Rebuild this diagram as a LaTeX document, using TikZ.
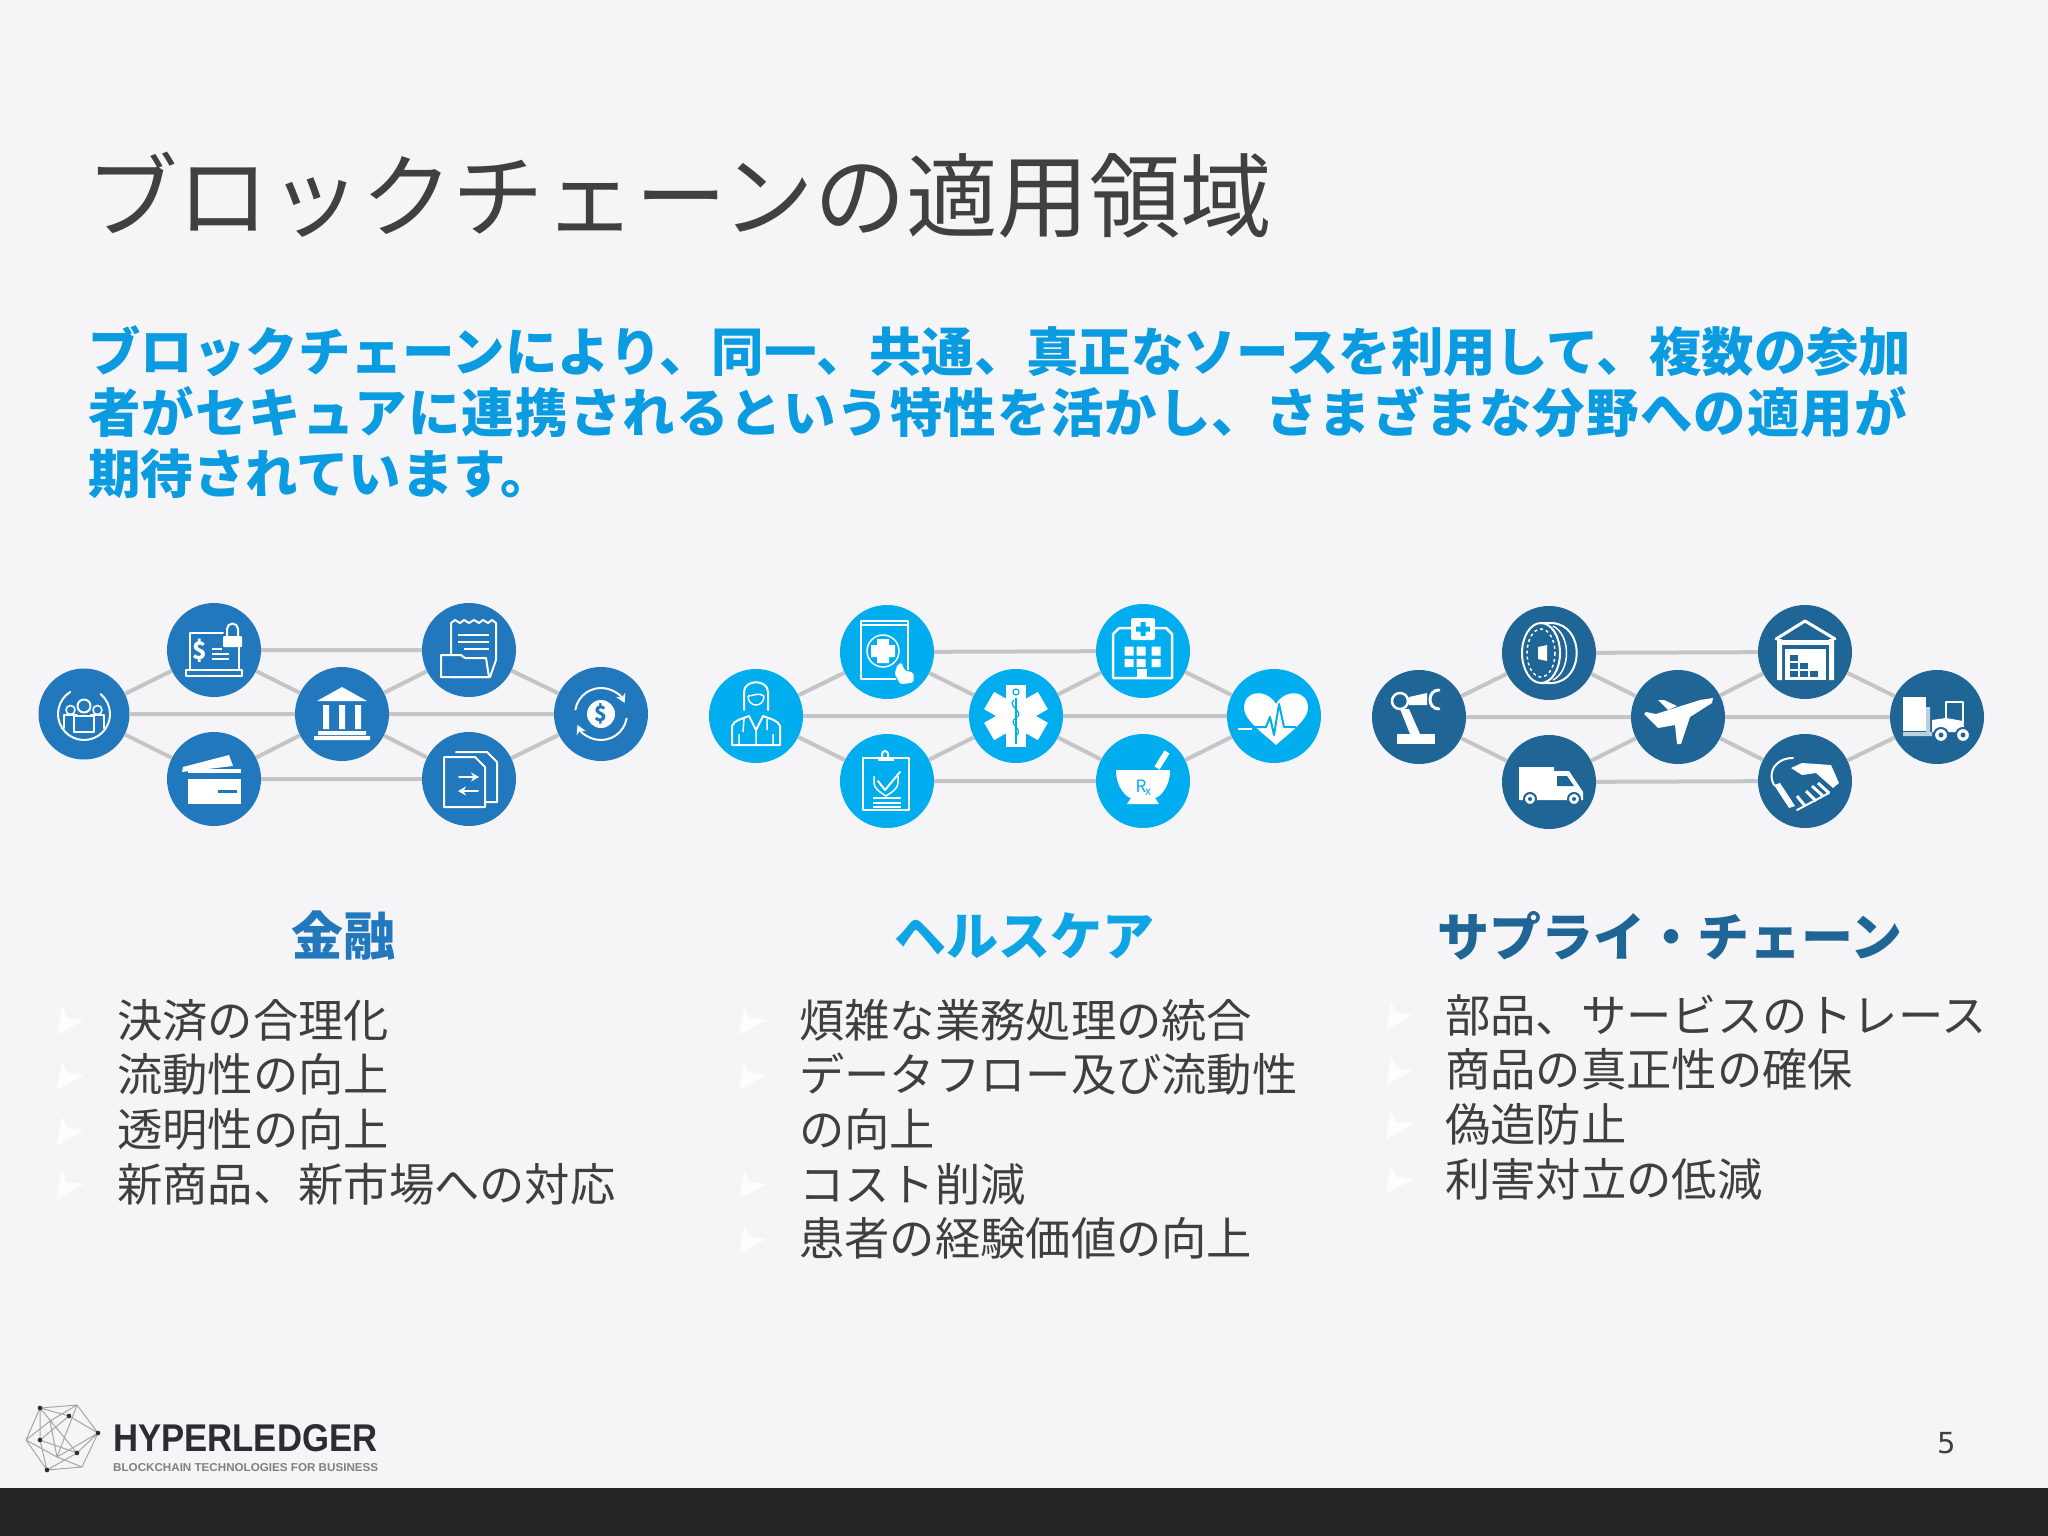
\documentclass[tikz,border=0pt]{standalone}
\usepackage{fontspec}
\setmainfont{Noto Sans CJK JP}
\newfontfamily\leadsp[LetterSpace=2.1]{Noto Sans CJK JP}
\newfontfamily\logofont{Liberation Sans}
\newfontfamily\numfont{DejaVu Sans}
\usetikzlibrary{arrows.meta}
\definecolor{pagebg}{HTML}{F5F5F7}
\definecolor{barbg}{HTML}{252527}
\definecolor{titlec}{HTML}{404040}
\definecolor{leadc}{HTML}{0B9BE0}
\definecolor{inka}{HTML}{2178BC}
\definecolor{inkb}{HTML}{00AEEF}
\definecolor{inkc}{HTML}{1F6595}
\definecolor{headb}{HTML}{0FA5E5}
\definecolor{linkc}{HTML}{C5C5C5}
\definecolor{bodyc}{HTML}{3F3F3F}
\definecolor{logoc}{HTML}{2D2D31}
\newcommand{\fs}[1]{\fontsize{#1}{#1}\selectfont}
\newcommand{\meshlinks}[1]{\draw[link] (#11)--(#12) (#11)--(#13) (#11)--(#14) (#12)--(#14) (#13)--(#14) (#12)--(#15) (#13)--(#16) (#14)--(#15) (#14)--(#16) (#14)--(#17) (#15)--(#17) (#16)--(#17);}
\newcommand{\bul}[2]{\fill[white,opacity=0.85] (#1-60,#2+15) -- (#1-33,#2) -- (#1-50,#2-2) -- (#1-55,#2-14) -- cycle;}
\tikzset{
  hub/.style={circle,minimum size=94pt,inner sep=0pt,fill=#1},
  link/.style={draw=linkc,line width=4pt},
  ic/.style={draw=white,line width=2pt,line join=round,line cap=round},
  thinw/.style={draw=white,line width=1.5pt},
  heading/.style={inner sep=0pt,font=\fs{52}\bfseries},
  item/.style={anchor=base west,inner sep=0pt,text=bodyc,font=\fs{45.3}},
}
\begin{document}
\begin{tikzpicture}[x=1pt,y=-1pt]
\useasboundingbox (0,0) rectangle (2048,1536);
\fill[pagebg] (0,0) rectangle (2048,1536);
\fill[barbg] (0,1488) rectangle (2048,1536);
% texts
\node[anchor=base west,inner sep=0pt,text=titlec,font=\fs{91.6}] (title) at (86,230) {ブロックチェーンの適用領域};
\node[anchor=north west,inner sep=0pt,text=leadc,align=left,font=\fontsize{52.45}{61.2}\selectfont\bfseries] (lead) at (88,325)
  {ブロックチェーンにより、同一、共通、真正なソースを利用して、複数の参加\\
   {\leadsp\bfseries 者がセキュアに連携されるという特性を活かし、さまざまな分野への適用が}\\
   期待されています。};
\node[heading,text=inka] (ha) at (343,936) {金融};
\node[heading,text=headb] (hb) at (1024,936) {ヘルスケア};
\node[heading,text=inkc] (hc) at (1670,936) {サプライ・チェーン};
% list 1
\node[item] (l1) at (117,1037) {決済の合理化};
\node[item] (l2) at (117,1091.5) {流動性の向上};
\node[item] (l3) at (117,1146.5) {透明性の向上};
\node[item] (l4) at (117,1201) {新商品、新市場への対応};
\bul{117}{1020}\bul{117}{1075}\bul{117}{1130}\bul{117}{1184}
% list 2
\node[item] (m1) at (799,1037) {煩雑な業務処理の統合};
\node[item] (m2) at (799,1091.5) {データフロー及び流動性};
\node[item] (m3) at (799,1146.5) {の向上};
\node[item] (m4) at (799,1201) {コスト削減};
\node[item] (m5) at (799,1255.5) {患者の経験価値の向上};
\bul{799}{1020}\bul{799}{1075}\bul{799}{1184}\bul{799}{1239}
% list 3
\node[item] (n1) at (1445,1032) {部品、サービスのトレース};
\node[item] (n2) at (1445,1086.5) {商品の真正性の確保};
\node[item] (n3) at (1445,1141) {偽造防止};
\node[item] (n4) at (1445,1196) {利害対立の低減};
\bul{1446}{1015}\bul{1446}{1070}\bul{1446}{1124}\bul{1446}{1179}
% page number
\node[inner sep=0pt,text=titlec,font=\numfont\fs{29}] (pg) at (1947,1443) {5};
% logo
\coordinate (L1) at (40,1408); \coordinate (L2) at (77,1405); \coordinate (L3) at (98,1433);
\coordinate (L4) at (82,1467); \coordinate (L5) at (47,1470); \coordinate (L6) at (26,1440);
\coordinate (D1) at (69,1416); \coordinate (D2) at (40,1440); \coordinate (D3) at (77,1453);
\coordinate (D4) at (50,1421); \coordinate (D5) at (57,1457);
\draw[draw=gray!70,line width=1pt] (L1)--(L2)--(L3)--(L4)--(L5)--(L6)--cycle
  (L1)--(D1)--(L3)--(D3)--(L5)--(D2)--(L1) (L2)--(D4)--(L6) (D4)--(D5)--(L4) (D1)--(D2)--(D3)--(L3) (L6)--(D5)--(L3) (L1)--(D3) (L2)--(D5);
\foreach \p in {L1,L3,L5,D1,D2,D3}{\fill[logoc] (\p) circle (2.3);}
\node[anchor=south west,inner sep=0pt,text=logoc] (logo) at (113,1452) {\resizebox{264pt}{27pt}{\logofont\bfseries HYPERLEDGER}};
\node[anchor=south west,inner sep=0pt,text=gray] (tag) at (113,1472) {\resizebox{265pt}{8pt}{\logofont\bfseries BLOCKCHAIN TECHNOLOGIES FOR BUSINESS}};
% hubs
\node[hub=inka,minimum size=91pt] (a1) at (84,714) {};
\node[hub=inka] (a2) at (214,650) {};
\node[hub=inka] (a3) at (214,779) {};
\node[hub=inka] (a4) at (342,714) {};
\node[hub=inka] (a5) at (469,650) {};
\node[hub=inka] (a6) at (469,779) {};
\node[hub=inka] (a7) at (601,714) {};
\meshlinks{a}
\node[hub=inkb] (b1) at (756,716) {};
\node[hub=inkb] (b2) at (887,652) {};
\node[hub=inkb] (b3) at (887,781) {};
\node[hub=inkb] (b4) at (1016,716) {};
\node[hub=inkb] (b5) at (1143,651) {};
\node[hub=inkb] (b6) at (1143,781) {};
\node[hub=inkb] (b7) at (1274,716) {};
\meshlinks{b}
\node[hub=inkc] (c1) at (1419,717) {};
\node[hub=inkc] (c2) at (1549,653) {};
\node[hub=inkc] (c3) at (1549,782) {};
\node[hub=inkc] (c4) at (1678,717) {};
\node[hub=inkc] (c5) at (1805,652) {};
\node[hub=inkc] (c6) at (1805,781) {};
\node[hub=inkc] (c7) at (1937,717) {};
\meshlinks{c}
% ---- icons A
\colorlet{ink}{inka}
\begin{scope}[shift={(a1)}]
 \draw[ic] (238:26) arc (238:-50:26);
 \draw[ic,fill=ink] (-20,14) -- (-20,1) -- (-7,1) -- (-7,14) (7,14) -- (7,1) -- (20,1) -- (20,14);
 \draw[thinw] (-13.5,-4) circle (4.5) (13.5,-4) circle (4.5);
 \draw[ic,fill=ink] (-10,18) -- (-10,2) -- (10,2) -- (10,18) -- cycle;
 \draw[ic,fill=ink] (0,-8) circle (6.5);
\end{scope}
\begin{scope}[shift={(a2)}]
 \draw[ic] (-24,20) -- (-24,-17) -- (9,-17) (25,-3) -- (25,20);
 \draw[ic] (-28,20) rectangle (28,26);
 \fill[white,rounded corners=1pt] (9,-14) rectangle (28,-3);
 \draw[ic] (13,-14) -- (13,-21) arc (180:360:5.5) -- (24,-14);
 \node[inner sep=0pt,text=white,font=\fs{24}\bfseries] (a2s) at (-14,1) {\$};
 \draw[thinw] (-2,-1) -- (8,-1) (-2,4) -- (15,4) (-2,9) -- (15,9);
\end{scope}
\begin{scope}[shift={(a3)}]
 \fill[white] (-32,-7) -- (-31,-12) -- (15,-24) -- (19,-13) -- cycle;
 \fill[white] (-26,-10) rectangle (27,25);
 \fill[ink] (-26,-6) rectangle (27,0);
 \fill[ink] (4,11) rectangle (23,14);
\end{scope}
\begin{scope}[shift={(a4)}]
 \fill[white] (0,-27) -- (25,-13) -- (-25,-13) -- cycle;
 \fill[white] (-19,-9) rectangle (-13,15) (-3,-9) rectangle (3,15) (13,-9) rectangle (19,15);
 \fill[white] (-24,17) rectangle (24,21) (-28,22) rectangle (28,26);
\end{scope}
\begin{scope}[shift={(a5)}]
 \draw[ic,fill=ink] (-18,5) -- (-18,-27) -- (-14,-30) -- (-9,-27) -- (-5,-30) -- (0,-27) -- (5,-30) -- (10,-27) -- (14,-30) -- (19,-27) -- (23,-30) -- (27,-27) -- (27,10) -- (21,27) -- (-18,27) -- cycle;
 \draw[thinw] (-11,-15) -- (20,-15) (-11,-8) -- (20,-8) (-5,-1) -- (20,-1);
 \draw[ic,fill=ink] (-28,27) -- (-28,5) -- (-8,5) -- (-4,8) -- (17,8) -- (20,27) -- cycle;
\end{scope}
\begin{scope}[shift={(a6)}]
 \draw[ic] (-13,-27) -- (18,-27) -- (28,-17) -- (28,23) -- (16,23);
 \draw[ic,fill=ink] (-25,-22) -- (6,-22) -- (16,-12) -- (16,28) -- (-25,28) -- cycle;
 \draw[ic,-{Stealth[length=8pt,width=9pt]}] (-10,-2) -- (10,-2);
 \draw[ic,-{Stealth[length=8pt,width=9pt]}] (9,12) -- (-11,12);
\end{scope}
\begin{scope}[shift={(a7)}]
 \draw[ic,-{Stealth[length=9pt,width=10pt]}] (190:26) arc (190:335:26);
 \draw[ic,-{Stealth[length=9pt,width=10pt]}] (10:26) arc (10:155:26);
 \fill[white] (0,0) circle (14);
 \node[inner sep=0pt,text=ink,font=\fs{21}\bfseries] (a7s) at (0,0) {\$};
\end{scope}
% ---- icons B
\colorlet{ink}{inkb}
\begin{scope}[shift={(b1)}]
 \draw[ic] (-12,-6) -- (-12,-24) .. controls (-12,-37) and (12,-37) .. (12,-24) -- (12,-6);
 \draw[thinw] (-8,-20) .. controls (-3,-20) and (3,-24) .. (8,-20) (-8,-20) .. controls (-8,-8) and (8,-8) .. (8,-20);
 \draw[ic] (-24,29) -- (-24,10) .. controls (-22,4) and (-14,3) .. (-7,0) -- (0,14) -- (7,0) .. controls (14,3) and (22,4) .. (24,10) -- (24,29) -- cycle;
 \draw[thinw] (0,14) -- (0,29) (-12,3) -- (-13,16) (11,3) -- (11,14) (-17,29) -- (-17,18) (17,29) -- (17,18);
\end{scope}
\begin{scope}[shift={(b2)}]
 \draw[ic] (-26,-31) rectangle (21,27);
 \draw[ic] (-26,-27) -- (21,-27);
 \draw[thinw] (-4,-1) circle (16);
 \fill[white] (-10,-13) rectangle (2,11) (-16,-7) rectangle (8,5);
 \fill[white,draw=ink,line width=1pt,rounded corners=2pt] (10,12) -- (15,10) -- (18,18) -- (27,20) -- (27,31) -- (13,33) -- (7,22) -- cycle;
\end{scope}
\begin{scope}[shift={(b3)}]
 \draw[ic] (-24,-23) rectangle (22,29);
 \fill[white] (-9,-24) rectangle (7,-20);
 \draw[ic] (-5,-24) -- (-5,-27) arc (180:360:3) -- (1,-24);
 \draw[thinw] (-13,-5) -- (-13,1) .. controls (-13,9) and (-5,12) .. (-1,15) .. controls (3,12) and (11,9) .. (11,1) -- (11,-5);
 \draw[ic] (-9,0) -- (-2,9) -- (13,-9);
 \draw[thinw] (-14,22) -- (14,22) (-14,17) -- (14,17) (-14,26) -- (14,26);
\end{scope}
\begin{scope}[shift={(b4)}]
 \foreach \r in {0,60,120}{\fill[white,rotate=\r] (-10,-31) rectangle (10,31);}
 \draw[draw=ink,line width=1.2pt] (0,-18) -- (0,28);
 \draw[draw=ink,line width=1.2pt] (-2,-16) .. controls (-10,-10) and (10,-4) .. (0,2) .. controls (-10,8) and (9,12) .. (0,20);
 \draw[draw=ink,line width=1.2pt] (0,-24) circle (3);
\end{scope}
\begin{scope}[shift={(b5)}]
 \draw[ic,line width=2.5pt] (-30,27) -- (-30,-17) -- (-24,-23) -- (23,-23) -- (29,-17) -- (29,27) -- cycle;
 \fill[white,rounded corners=2pt] (-12,-33) rectangle (12,-11);
 \fill[ink] (-2.5,-29) rectangle (2.5,-15) (-7,-24.5) rectangle (7,-19.5);
 \foreach \xx in {-14,-2,13}{\fill[white] (\xx-4.5,-4.5) rectangle (\xx+4.5,4.5) (\xx-4.5,8) rectangle (\xx+4.5,16);}
 \fill[white] (-6,18) rectangle (4,27);
\end{scope}
\begin{scope}[shift={(b6)}]
 \fill[white] (-27,-11) -- (27,-11) .. controls (27,8) and (15,17) .. (12,17) -- (16,23) -- (-16,23) -- (-12,17) .. controls (-15,17) and (-27,8) .. (-27,-11) -- cycle;
 \draw[draw=white,line width=6pt] (14,-13) -- (24,-29);
 \node[inner sep=0pt,text=ink,font=\fs{17}] (b6r) at (-2,5) {R};
 \node[inner sep=0pt,text=ink,font=\fs{12}] (b6x) at (5,11) {x};
\end{scope}
\begin{scope}[shift={(b7)}]
 \fill[white] (2,29) .. controls (-10,18) and (-30,4) .. (-30,-8) .. controls (-30,-26) and (-8,-28) .. (2,-12) .. controls (12,-28) and (34,-26) .. (34,-8) .. controls (34,4) and (14,18) .. (2,29) -- cycle;
 \draw[draw=ink,line width=2pt,line join=round] (-24,11) -- (-8,11) -- (-4,1) -- (0,19) -- (5,-12) -- (10,11) -- (22,11);
 \draw[draw=white,line width=2pt] (-36,13) -- (-22,13);
\end{scope}
% ---- icons C
\colorlet{ink}{inkc}
\begin{scope}[shift={(c1)}]
 \fill[white] (-22,17) rectangle (16,27);
 \fill[white] (-19,-8) -- (-10,-8) -- (1,17) -- (-9,17) -- cycle;
 \draw[ic,line width=2.5pt] (-19,-16) circle (8);
 \fill[white] (-10,-20) -- (8,-24) -- (8,-12) -- (-10,-12) -- cycle;
 \draw[ic,line width=3pt] (20,-27) .. controls (8,-27) and (8,-8) .. (20,-8);
\end{scope}
\begin{scope}[shift={(c2)}]
 \draw[ic] (-8,0) ellipse (19 and 30);
 \draw[ic] (-8,-30) -- (3,-30) .. controls (36,-28) and (36,28) .. (3,30) -- (-8,30);
 \draw[thinw] (4,-27) .. controls (22,-18) and (22,18) .. (4,27);
 \draw[thinw,dashed] (-8,0) ellipse (14 and 24);
 \fill[white] (-11,-6) -- (-2,-8) -- (-2,8) -- (-11,6) -- cycle;
\end{scope}
\begin{scope}[shift={(c3)}]
 \fill[white] (-30,-15) -- (5,-15) -- (5,-11) -- (20,-11) -- (34,10) -- (34,18) -- (-30,18) -- cycle;
 \fill[ink] (8,-6) -- (18,-6) -- (25,4) -- (8,4) -- cycle;
 \filldraw[fill=white,draw=ink,line width=2pt] (-19,17) circle (6) (25,17) circle (6);
 \fill[ink] (-19,17) circle (2) (25,17) circle (2);
\end{scope}
\begin{scope}[shift={(c4)}]
 \fill[white] (35,-19) -- (34,-14) -- (12,0) -- (3,27) -- (-1,27) -- (-3,8) -- (-20,11) -- (-34,-3) -- (-32,-5) -- (-22,-3) -- (22,-17) -- cycle;
 \fill[white] (-20,-17) -- (-14,-17) -- (-1,-11) -- (-10,-7) -- cycle;
\end{scope}
\begin{scope}[shift={(c5)}]
 \draw[ic,line width=3pt] (-29,-13) -- (0,-31) -- (30,-13);
 \fill[white] (-28,-13) rectangle (-23,28) (24,-13) rectangle (29,28);
 \fill[white] (-25,-12) rectangle (26,-7);
 \fill[white] (-20,-3) rectangle (21,28);
 \foreach \xx/\yy in {-11/6,-11/14,-1/14,-11/22,-1/22,9/22}{\fill[ink] (\xx-4,\yy-3) rectangle (\xx+4,\yy+3);}
\end{scope}
\begin{scope}[shift={(c6)}]
 \draw[ic] (-12,-23) .. controls (-30,-23) and (-38,-8) .. (-31,4);
 \fill[white] (-31,4) -- (-25,2) -- (-10,25) -- (-16,27) -- cycle;
 \fill[white] (-14,-13) -- (-3,-18) -- (26,-16) -- (34,2) -- (28,7) -- (11,-8) -- (-3,-6) -- cycle;
 \draw[draw=white,line width=3pt] (-8,15) -- (0,25) (1,10) -- (11,20) (7,5) -- (18,15) (13,2) -- (24,12);
 \draw[ic] (-8,29) -- (24,12);
\end{scope}
\begin{scope}[shift={(c7)}]
 \fill[white] (-34,-20) rectangle (-11,14);
 \fill[white!70!ink] (-34,15) rectangle (-5,19) (-11,-10) rectangle (-7,19);
 \draw[ic] (9,3) -- (9,-15) -- (26,-15) -- (26,6);
 \fill[white] (-5,3) -- (9,1) -- (26,4) -- (28,15) -- (-5,15) -- cycle;
 \filldraw[fill=white,draw=ink,line width=2pt] (4,18) circle (7) (26,18) circle (7);
 \fill[ink] (4,18) circle (2.5) (26,18) circle (2.5);
\end{scope}
\end{tikzpicture}
\end{document}
